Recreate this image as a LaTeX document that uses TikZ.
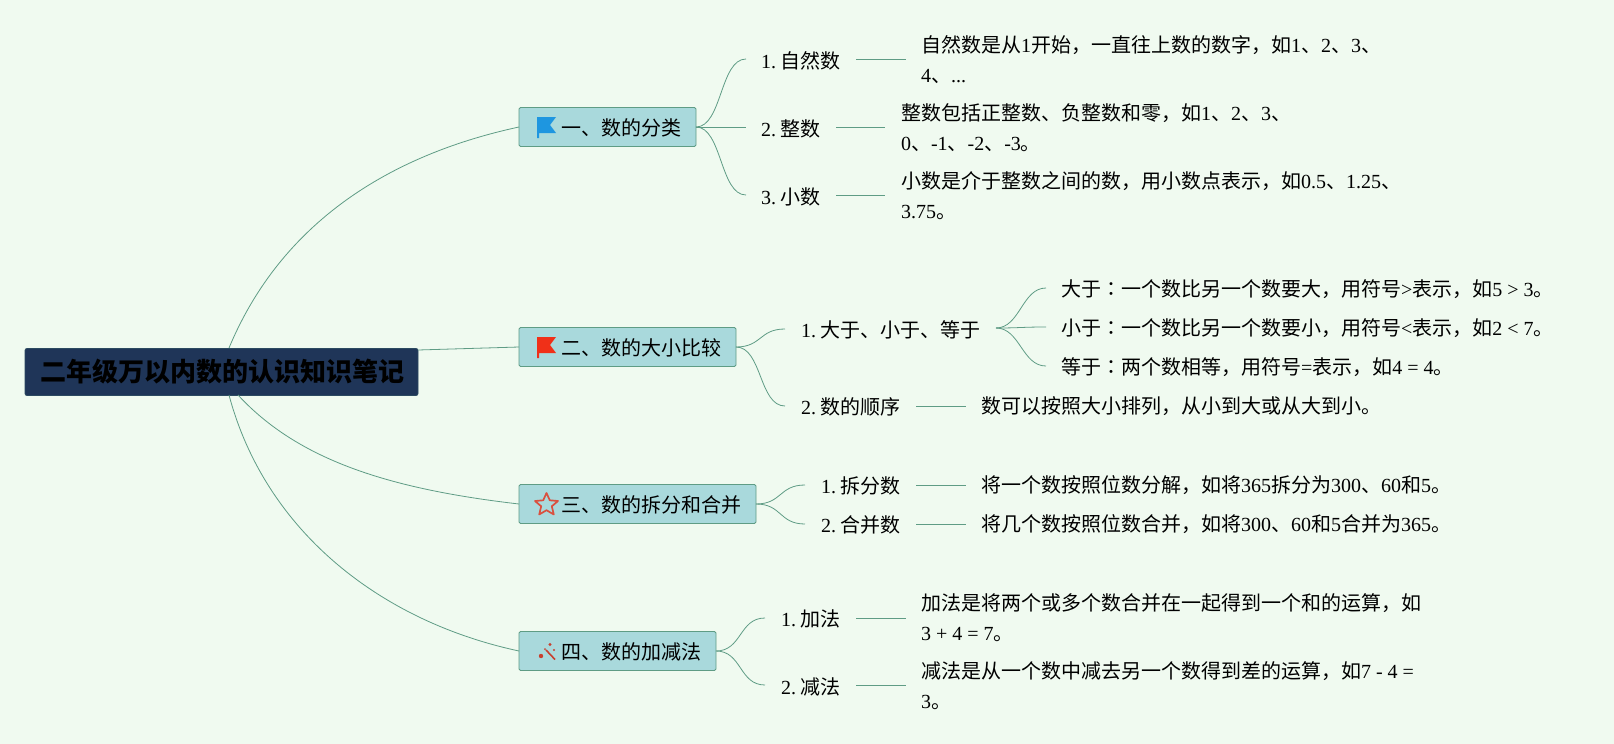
\documentclass[tikz,border=0pt]{standalone}
\usepackage{fontspec}
\setmainfont{Liberation Serif}
\newfontfamily\zhf{Noto Sans CJK SC}
\newfontfamily\zhtc{Noto Sans CJK TC}
\newcommand\zh[1]{{\zhf #1}}
\newcommand\zc{{\zhtc ：}}
\newcommand\nsp{\hspace{4.6pt}}
\definecolor{bgc}{HTML}{F0FAF0}
\definecolor{linec}{HTML}{5F9C85}
\definecolor{boxc}{HTML}{A9D9DC}
\definecolor{rootc}{HTML}{1F3558}
\definecolor{flagb}{HTML}{1E96E0}
\definecolor{flagr}{HTML}{F03018}
\definecolor{starc}{HTML}{D9503F}
\definecolor{wandc}{HTML}{C8402F}
\tikzset{
 txt/.style={anchor=west,inner sep=0pt,outer sep=0pt,align=left,font=\fontsize{20}{30}\selectfont,text=black},
 branch/.style={anchor=north west,inner sep=0pt,outer sep=0pt,draw=linec,fill=boxc,line width=.9pt,rounded corners=1.5pt},
 conn/.style={draw=linec,line width=.8pt},
 ico/.style={line join=round},
}
\begin{document}
\begin{tikzpicture}[x=1pt,y=-1pt]
\path[fill=bgc] (0,0) rectangle (1614,744);
\useasboundingbox (0,0) rectangle (1614,744);
% root
\node[anchor=north west,inner sep=0pt,outer sep=0pt,fill=rootc,draw=rootc!80!linec,line width=.8pt,rounded corners=2pt,minimum width=393pt,minimum height=47pt,font=\fontsize{26}{30}\selectfont\zhf\bfseries,text=black] (root) at (25,348.5) {\hspace{1.5pt}二年级万以内数的认识知识笔记};
% branches
\node[branch,minimum width=177pt,minimum height=39pt] (b1) at (519,107.5) {};
\node[branch,minimum width=217pt,minimum height=39pt] (b2) at (519,327.5) {};
\node[branch,minimum width=237pt,minimum height=39pt] (b3) at (519,484.5) {};
\node[branch,minimum width=197pt,minimum height=39pt] (b4) at (519,631.5) {};
\node[txt] (t1) at (561,128) {\zh{一、数的分类}};
\node[txt] (t2) at (561,348) {\zh{二、数的大小比较}};
\node[txt] (t3) at (561,505) {\zh{三、数的拆分和合并}};
\node[txt] (t4) at (561,652) {\zh{四、数的加减法}};
% icons
\fill[ico,fill=flagb] (537,117) -- (556,117) -- (550,125) -- (556,133) -- (539,133) -- (539,138) -- (537,138) -- cycle;
\fill[ico,fill=flagr] (537,337) -- (556,337) -- (550,345) -- (556,353) -- (539,353) -- (539,358) -- (537,358) -- cycle;
\draw[ico,draw=starc,line width=1.7pt] (546.5,493) -- (549.8,500.3) -- (558,501) -- (551.8,506.3) -- (553.8,514.5) -- (546.5,510.2) -- (539.2,514.5) -- (541.2,506.3) -- (535,501) -- (543.2,500.3) -- cycle;
\draw[ico,draw=wandc,line width=1.6pt] (546,650) -- (555,659.5);
\fill[wandc] (541,656) circle (2.2pt) (550,644.5) circle (1.6pt) (554,650) circle (1.1pt) (545,649) circle (1pt);
% second level
\node[txt] (a1) at (761,60.5) {1.\nsp\zh{自然数}};
\node[txt] (a2) at (761,128.5) {2.\nsp\zh{整数}};
\node[txt] (a3) at (761,197) {3.\nsp\zh{小数}};
\node[txt] (c1) at (801,329.5) {1.\nsp\zh{大于、小于、等于}};
\node[txt] (c2) at (801,406.5) {2.\nsp\zh{数的顺序}};
\node[txt] (d1) at (821,485.5) {1.\nsp\zh{拆分数}};
\node[txt] (d2) at (821,524.5) {2.\nsp\zh{合并数}};
\node[txt] (e1) at (781,618.5) {1.\nsp\zh{加法}};
\node[txt] (e2) at (781,686.5) {2.\nsp\zh{减法}};
% details
\node[txt] (a1x) at (921,60) {\zh{自然数是从}1\zh{开始，一直往上数的数字，如}1\zh{、}2\zh{、}3\zh{、}\\4\zh{、}...};
\node[txt] (a2x) at (901,128) {\zh{整数包括正整数、负整数和零，如}1\zh{、}2\zh{、}3\zh{、}\\0\zh{、}-1\zh{、}-2\zh{、}-3\zh{。}};
\node[txt] (a3x) at (901,196) {\zh{小数是介于整数之间的数，用小数点表示，如}0.5\zh{、}1.25\zh{、}\\3.75\zh{。}};
\node[txt] (g1) at (1061,289.5) {\zh{大于}\zc\zh{一个数比另一个数要大，用符号}>\zh{表示，如}5 > 3\zh{。}};
\node[txt] (g2) at (1061,328.5) {\zh{小于}\zc\zh{一个数比另一个数要小，用符号}<\zh{表示，如}2 < 7\zh{。}};
\node[txt] (g3) at (1061,367) {\zh{等于}\zc\zh{两个数相等，用符号}=\zh{表示，如}4 = 4\zh{。}};
\node[txt] (c2x) at (981,406.5) {\zh{数可以按照大小排列，从小到大或从大到小。}};
\node[txt] (d1x) at (981,485.5) {\zh{将一个数按照位数分解，如将}365\zh{拆分为}300\zh{、}60\zh{和}5\zh{。}};
\node[txt] (d2x) at (981,524.5) {\zh{将几个数按照位数合并，如将}300\zh{、}60\zh{和}5\zh{合并为}365\zh{。}};
\node[txt] (e1x) at (921,618) {\zh{加法是将两个或多个数合并在一起得到一个和的运算，如}\\3 + 4 = 7\zh{。}};
\node[txt] (e2x) at (921,686) {\zh{减法是从一个数中减去另一个数得到差的运算，如}7 - 4 =\\3\zh{。}};
% connector ends beside labels
\foreach \n/\x/\y in {a1i/746/59,a2i/746/127,a3i/746/195,c1i/785/329,c2i/785/406,d1i/805/485,d2i/805/524,e1i/765/618,e2i/765/685,a1o/856/59,a2o/836/127,a3o/836/195,c1o/996/328,c2o/916/406,d1o/916/485,d2o/916/524,e1o/856/618,e2o/856/685,a1t/906/59,a2t/885/127,a3t/885/195,c2t/966/406,d1t/966/485,d2t/966/524,e1t/906/618,e2t/906/685,g1i/1046/288,g2i/1046/327,g3i/1046/366,r1/229/348,r2/418/350,r3/238/395,r4/229/395}
  \coordinate (\n) at (\x,\y);
% root connectors
\draw[conn] (r1) .. controls +(52,-125) and +(-130,28) .. (b1.west);
\draw[conn] (r2) -- (b2.west);
\draw[conn] (r3) .. controls +(60,65) and +(-130,-15) .. (b3.west);
\draw[conn] (r4) .. controls +(36,135) and +(-140,-30) .. (b4.west);
% branch connectors
\foreach \s/\e in {b1/a1i,b1/a3i,b2/c1i,b2/c2i,b3/d1i,b3/d2i,b4/e1i,b4/e2i}
  \draw[conn] (\s.east) .. controls +(26,0) and +(-26,0) .. (\e);
\draw[conn] (b1.east) -- (a2i);
% label to detail
\foreach \s/\e in {a1o/a1t,a2o/a2t,a3o/a3t,c2o/c2t,d1o/d1t,d2o/d2t,e1o/e1t,e2o/e2t}
  \draw[conn] (\s) -- (\e);
\foreach \e in {g1i,g2i,g3i}
  \draw[conn] (c1o) .. controls +(24,0) and +(-24,0) .. (\e);
\end{tikzpicture}
\end{document}
